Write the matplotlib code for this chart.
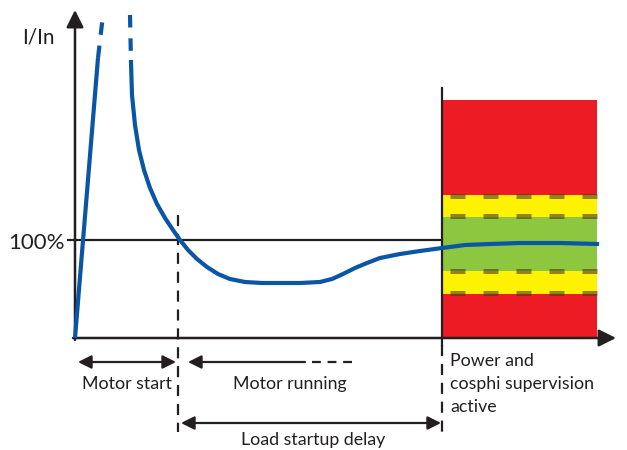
import matplotlib.pyplot as plt

# Schematic of motor current vs time (drawn in pixel-like coordinates)
rise_x = [75, 98]
rise_y = [338, 58]
rise_dash_x = [98, 103]
rise_dash_y = [58, 15]
fall_dash_x = [130, 131]
fall_dash_y = [15, 62]
curve_x = [131, 132, 135, 139, 144, 150, 157, 165, 173, 180, 188, 197, 207, 218, 230, 245,
           262, 280, 300, 320, 332, 343, 355, 367, 380, 400, 420, 442, 465, 490, 520, 560, 597]
curve_y = [62, 95, 125, 150, 170, 188, 204, 218, 230, 240, 250, 259, 267, 274, 279, 282,
           283, 283, 283, 282, 279, 274, 268, 263, 258, 254, 251, 248, 245, 244, 243, 243, 244]

# supervision bands (top, bottom) for the coloured box
band_tops = [100, 195, 217, 271, 294]
band_bottoms = [195, 217, 271, 294, 337]
band_colors = ['#ed1c24', '#fff200', '#8dc63f', '#fff200', '#ed1c24']
limit_lines = [196, 216, 271, 293]

blue = '#0a55a6'
ink = '#231f20'

fig = plt.figure(figsize=(6.27, 4.5), dpi=100)
ax = fig.add_axes([0, 0, 1, 1])
ax.set_xlim(0, 627)
ax.set_ylim(450, 0)
ax.axis('off')

# coloured box
for top, bot, c in zip(band_tops, band_bottoms, band_colors):
    ax.fill_between([443, 597], top, bot, color=c, lw=0, zorder=1)
for yl in limit_lines:
    ax.plot([450, 597], [yl, yl], color='#4a3a20', alpha=0.6, lw=3.6,
            dashes=(3.0, 3.6), solid_capstyle='butt', zorder=2)

# axes with arrows
ax.annotate('', xy=(75, 10), xytext=(75, 340),
            arrowprops=dict(arrowstyle='-|>', color=ink, lw=1.8, mutation_scale=26, shrinkA=0, shrinkB=0))
ax.annotate('', xy=(616, 338), xytext=(73, 338),
            arrowprops=dict(arrowstyle='-|>', color=ink, lw=1.8, mutation_scale=26, shrinkA=0, shrinkB=0))

# 100% line
ax.plot([68, 442], [240, 240], color=ink, lw=1.6, zorder=3)
ax.plot([442, 442], [88, 345], color=ink, lw=1.6, zorder=3)
ax.plot([442, 442], [345, 432], color=ink, lw=1.6, dashes=(5, 3.5), zorder=3)
ax.plot([178, 178], [215, 432], color=ink, lw=1.6, dashes=(5, 3.5), zorder=3)

# current curve
ax.plot(rise_x, rise_y, color=blue, lw=3.0, solid_capstyle='butt', zorder=4)
ax.plot(rise_dash_x, rise_dash_y, color=blue, lw=3.0, dashes=(3, 2.6), zorder=4)
ax.plot(fall_dash_x, fall_dash_y, color=blue, lw=3.0, dashes=(3, 2.6), zorder=4)
ax.plot(curve_x, curve_y, color=blue, lw=3.0, solid_joinstyle='round', zorder=4)

# time span arrows
arr = dict(color=ink, lw=1.6, mutation_scale=20, shrinkA=0, shrinkB=0)
ax.annotate('', xy=(78, 362), xytext=(176, 362), arrowprops=dict(arrowstyle='<|-|>', **arr))
ax.annotate('', xy=(188, 362), xytext=(305, 362), arrowprops=dict(arrowstyle='-|>', **arr))
ax.plot([312, 356], [362, 362], color=ink, lw=1.6, dashes=(4, 3))
ax.annotate('', xy=(181, 423), xytext=(441, 423), arrowprops=dict(arrowstyle='<|-|>', **arr))

font = dict(family=['Lato', 'DejaVu Sans'], color=ink)
ax.text(22, 38, 'I/In', fontsize=15, va='center', ha='left', **font)
ax.text(8, 243, '100%', fontsize=16, va='center', ha='left', **font)
ax.text(127, 384, 'Motor start', fontsize=12.8, va='center', ha='center', **font)
ax.text(290, 384, 'Motor running', fontsize=12.8, va='center', ha='center', **font)
ax.text(313, 440, 'Load startup delay', fontsize=12.8, va='center', ha='center', **font)
ax.text(450, 384, 'Power and\ncosphi supervision\nactive', fontsize=12.8, va='center',
        ha='left', linespacing=1.55, **font)

fig.savefig('out.png', dpi=100)
